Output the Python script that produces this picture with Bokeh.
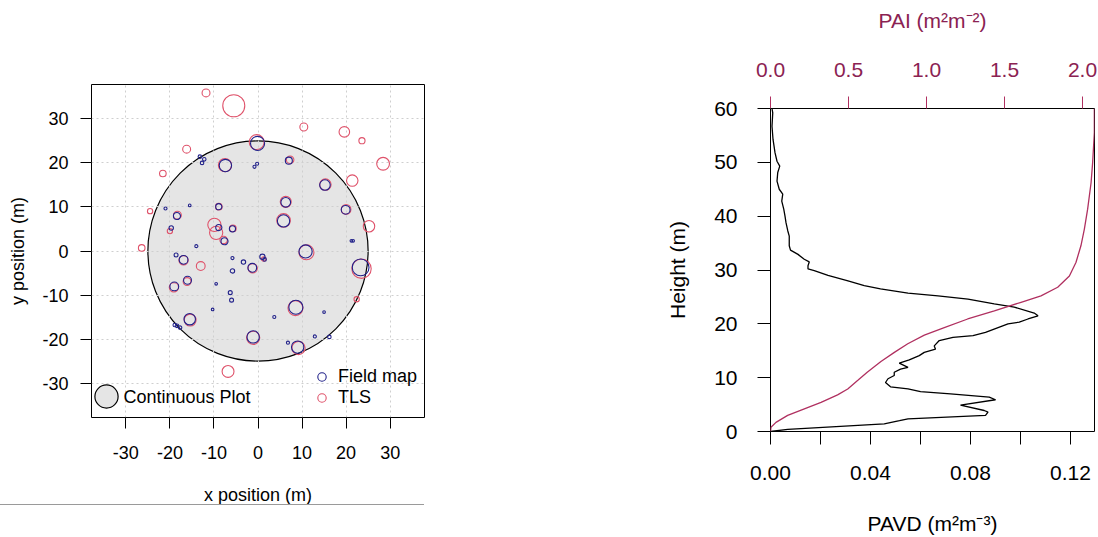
from bokeh.plotting import figure
from bokeh.models import (Range1d, LinearAxis, FixedTicker, Legend, LegendItem, Label,
                          CustomJSTickFormatter, PrintfTickFormatter, Div)
from bokeh.layouts import row, column
from bokeh.embed import file_html
from bokeh.resources import INLINE

# ---------------- data: stem map ----------------
plot_radius = 25
map_ticks = [-30, -20, -10, 0, 10, 20, 30]

field_x = [-0.1, -13.2, -12.2, -12.7, -7.4, -0.8, -0.2, 7.0, 15.2, -21.0, -15.5, -8.9, -18.4, 6.3, 5.8,
           19.9, -8.9, -5.8, -7.6, -19.7, -14.0, 21.2, 21.6, 10.8, -18.6, -16.9, -5.8, -3.3, -5.8, -1.3,
           1.0, 1.5, -16.0, -19.0, -9.5, -6.3, -6.0, -10.3, -15.5, -18.9, -18.4, -17.7, -1.1, 23.3, 8.6,
           3.7, 15.0, 6.8, 9.0, 12.9, 16.2]
field_y = [24.3, 21.3, 20.7, 19.9, 19.3, 19.0, 19.7, 20.4, 14.9, 9.6, 10.3, 10.0, 7.9, 11.0, 6.8,
           9.3, 5.3, 5.0, 2.2, 5.2, 1.1, 2.3, 2.3, -0.1, -0.9, -2.0, -1.6, -2.5, -4.5, -3.8,
           -1.3, -1.9, -6.6, -8.0, -7.4, -9.4, -11.1, -13.2, -15.4, -16.7, -16.9, -17.3, -19.4, -3.7, -12.7,
           -14.9, -13.8, -20.7, -21.7, -19.3, -19.4]
field_r = [1.6, 0.4, 0.4, 0.4, 1.4, 0.35, 0.35, 0.8, 1.2, 0.35, 0.3, 0.7, 0.8, 1.1, 1.4,
           1.0, 0.7, 0.7, 0.8, 0.5, 0.35, 0.3, 0.3, 1.5, 0.45, 1.0, 0.35, 0.5, 0.5, 1.0,
           0.6, 0.4, 0.9, 1.0, 0.3, 0.45, 0.45, 0.3, 1.3, 0.4, 0.4, 0.4, 1.4, 1.9, 1.6,
           0.35, 0.3, 0.35, 1.4, 0.35, 0.4]

tls_x = [-11.8, -5.5, -0.3, 10.4, 19.6, 23.6, 28.4, 21.4, -16.2, -21.6, -24.5, -26.4, 25.2, 22.4, -6.8,
         -7.5, 7.3, 15.3, -8.9, -18.3, 6.3, 5.8, 20.0, -9.9, -9.5, -5.7, -7.8, -20.0, 11.0, -16.9,
         -13.0, -1.2, 1.3, -16.1, -19.1, -15.4, -1.1, 23.5, 8.5, 9.2]
tls_y = [35.7, 32.8, 24.6, 28.0, 26.9, 24.9, 19.7, 15.9, 23.0, 17.5, 9.0, 0.7, 5.6, -10.9, -27.2,
         19.4, 20.6, 15.0, 10.0, 8.1, 11.1, 6.9, 9.4, 5.9, 4.1, 5.1, 2.5, 4.5, -0.3, -2.1,
         -3.4, -3.9, -1.8, -6.9, -8.2, -15.6, -19.6, -4.0, -12.9, -21.9]
tls_r = [0.9, 2.5, 1.7, 0.9, 1.2, 0.7, 1.45, 1.3, 0.9, 0.75, 0.6, 0.75, 1.3, 0.6, 1.35,
         1.5, 0.85, 1.3, 0.75, 0.9, 1.25, 1.55, 1.1, 1.5, 1.5, 0.75, 0.85, 0.6, 1.7, 1.05,
         1.0, 1.05, 0.5, 0.9, 1.05, 1.35, 1.5, 2.2, 1.7, 1.5]

# ---------------- data: vertical profile ----------------
pavd_height = [0, 0.4, 1.4, 2.0, 2.35, 3.0, 3.6, 3.9, 4.9, 5.9, 6.4, 7.0, 7.4, 7.9, 8.3, 9.1, 9.8, 10.4,
               11.0, 11.6, 11.9, 12.7, 13.3, 14.1, 14.7, 15.3, 15.9, 16.9, 17.5, 17.8, 18.4, 20.0, 20.3,
               20.9, 21.5, 22.0, 23.1, 23.7, 24.6, 25.2, 25.7, 26.5, 27.1, 28.0, 29.0, 29.9, 30.2, 30.8,
               31.5, 32.0, 32.9, 33.7, 34.5, 36.3, 37.3, 38.8, 40.0, 41.3, 42.8, 44.1, 45.0, 46.5, 48.1,
               49.3, 50.2, 51.8, 54.3, 56.7, 59.2, 60]
pavd = [0.0, 0.0069, 0.0455, 0.0516, 0.055, 0.086, 0.087, 0.0855, 0.076, 0.090, 0.0875, 0.072, 0.060,
        0.055, 0.048, 0.046, 0.047, 0.0495, 0.0495, 0.052, 0.055, 0.0515, 0.0555, 0.0595, 0.0615, 0.066,
        0.0655, 0.0675, 0.073, 0.081, 0.086, 0.095, 0.0995, 0.103, 0.107, 0.1055, 0.0975, 0.0895, 0.079,
        0.067, 0.055, 0.044, 0.0375, 0.031, 0.023, 0.0175, 0.015, 0.015, 0.0155, 0.0135, 0.011, 0.008,
        0.0075, 0.0075, 0.0069, 0.0062, 0.0058, 0.0053, 0.0045, 0.0049, 0.0035, 0.0026, 0.0029, 0.0037,
        0.0026, 0.0018, 0.001, 0.0006, 0.0009, 0.0006]
pai_height = [0, 0.8, 1.7, 3.0, 4.2, 5.4, 6.8, 7.9, 9.5, 11.0, 13.0, 14.7, 16.3, 17.9, 19.3, 20.9, 22.4,
              24.0, 25.2, 26.8, 28.9, 31.4, 34.5, 37.6, 41.3, 46.2, 49.9, 55.5, 60]
pai = [0.0, 0.003, 0.035, 0.11, 0.217, 0.324, 0.43, 0.495, 0.56, 0.62, 0.708, 0.794, 0.88, 0.986, 1.114,
       1.264, 1.435, 1.606, 1.734, 1.841, 1.916, 1.958, 1.99, 2.012, 2.033, 2.055, 2.065, 2.076, 2.076]
height_ticks = [0, 10, 20, 30, 40, 50, 60]
pavd_ticks = [0.0, 0.02, 0.04, 0.06, 0.08, 0.10, 0.12]
pai_ticks = [0.0, 0.5, 1.0, 1.5, 2.0]

FONT = "Liberation Sans"
NAVY = "#22228a"
PINK = "#DF536B"
PURPLE_TXT = "#8B2252"
PURPLE_LINE = "#B03060"

# ================= left: stem map =================
p1 = figure(width=560, height=511, output_backend="svg", toolbar_location=None,
            x_range=Range1d(-37.8, 37.8), y_range=Range1d(-37.6, 37.6),
            min_border_left=91, min_border_right=136, min_border_top=84, min_border_bottom=94)
p1.outline_line_color = "black"
p1.outline_line_width = 1

for ax in (p1.xaxis[0], p1.yaxis[0]):
    ax.ticker = FixedTicker(ticks=map_ticks)
    ax.formatter = CustomJSTickFormatter(code="return tick.toFixed(0);")
    ax.axis_line_color = None
    ax.major_tick_line_color = "black"
    ax.major_tick_in = 0
    ax.major_tick_out = 11
    ax.minor_tick_line_color = None
    ax.major_label_text_font = FONT
    ax.major_label_text_font_size = "18px"
    ax.major_label_text_color = "black"
    ax.axis_label_text_font = FONT
    ax.axis_label_text_font_size = "18px"
    ax.axis_label_text_font_style = "normal"
    ax.axis_label_text_color = "black"
p1.xaxis.axis_label = "x position (m)"
p1.yaxis.axis_label = "y position (m)"
p1.xaxis.major_label_standoff = 17
p1.xaxis.axis_label_standoff = 23
p1.yaxis.major_label_standoff = 12
p1.yaxis.axis_label_standoff = 11
p1.yaxis.major_label_orientation = "horizontal"

p1.grid.grid_line_color = "#cfcfcf"
p1.grid.grid_line_dash = "2 3"
p1.grid.grid_line_width = 1

plot_r = p1.circle(x=[0], y=[0], radius=[plot_radius], fill_color="#E5E5E5",
                   line_color="black", line_width=1.2, level="image")
tls_r_ = p1.circle(x=tls_x, y=tls_y, radius=tls_r, fill_color=None,
                   line_color=PINK, line_width=1.1)
field_r_ = p1.circle(x=field_x, y=field_y, radius=field_r, fill_color=None,
                     line_color=NAVY, line_width=1.1)

leg1 = Legend(items=[LegendItem(label=" ", renderers=[plot_r])],
              location=(-14, -8), glyph_width=58, glyph_height=58, label_standoff=0,
              padding=0, margin=0, spacing=0, border_line_color=None, background_fill_alpha=0,
              label_text_font=FONT, label_text_font_size="18px", label_text_color="black")
leg1_text = Label(x=32, y=20.5, x_units="screen", y_units="screen", text="Continuous Plot",
                  text_baseline="middle", text_align="left", text_font=FONT,
                  text_font_size="18px", text_color="black")
leg2 = Legend(items=[LegendItem(label="Field map", renderers=[field_r_]),
                     LegendItem(label="TLS", renderers=[tls_r_])],
              location=(219, 9), glyph_width=23, glyph_height=21, label_standoff=5,
              label_height=20, padding=0, margin=0, spacing=0, border_line_color=None,
              background_fill_alpha=0, label_text_font=FONT, label_text_font_size="18px",
              label_text_color="black")
p1.add_layout(leg1)
p1.add_layout(leg1_text)
p1.add_layout(leg2)

rule = Div(text="", width=424, height=1, margin=(-7, 0, 0, 0),
           styles={"background-color": "#9a9a9a"})

# ================= right: vertical profile =================
p2 = figure(width=538, height=537, output_backend="svg", toolbar_location=None,
            x_range=Range1d(0, 0.1296), y_range=Range1d(0, 60),
            min_border_left=210, min_border_right=4, min_border_top=108, min_border_bottom=104)
p2.extra_x_ranges = {"pai": Range1d(0, 2.077)}
p2.outline_line_color = "black"
p2.outline_line_width = 1
p2.grid.visible = False

p2.line(x=pavd, y=pavd_height, line_color="black", line_width=1.3)
p2.line(x=pai, y=pai_height, x_range_name="pai", line_color=PURPLE_LINE, line_width=1.3)

top = LinearAxis(x_range_name="pai", ticker=FixedTicker(ticks=pai_ticks),
                 formatter=PrintfTickFormatter(format="%.1f"), axis_label="PAI (m²m⁻²)")
p2.add_layout(top, "above")

bottom = p2.below[0]
left = p2.left[0]
bottom.ticker = FixedTicker(ticks=pavd_ticks)
bottom.formatter = CustomJSTickFormatter(
    code="return (Math.round(tick*100) % 4 === 0) ? tick.toFixed(2) : '';")
left.ticker = FixedTicker(ticks=height_ticks)

for ax in (bottom, left, top):
    ax.axis_line_color = None
    ax.major_tick_in = 0
    ax.major_tick_out = 13
    ax.minor_tick_line_color = None
    ax.major_label_text_font = FONT
    ax.major_label_text_font_size = "21px"
    ax.axis_label_text_font = FONT
    ax.axis_label_text_font_size = "21px"
    ax.axis_label_text_font_style = "normal"

bottom.axis_label = "PAVD (m²m⁻³)"
bottom.major_label_standoff = 21
bottom.axis_label_standoff = 29
left.axis_label = "Height (m)"
left.major_label_standoff = 20
left.axis_label_standoff = 22
left.major_label_orientation = "horizontal"
for ax in (bottom, left):
    ax.major_tick_line_color = "black"
    ax.major_label_text_color = "black"
    ax.axis_label_text_color = "black"
top.major_tick_out = 12
top.major_label_standoff = 20
top.axis_label_standoff = 28
top.major_tick_line_color = PURPLE_LINE
top.major_label_text_color = PURPLE_TXT
top.axis_label_text_color = PURPLE_TXT

layout = row(column(p1, rule), p2)
open("out.html", "w").write(file_html(layout, INLINE))
